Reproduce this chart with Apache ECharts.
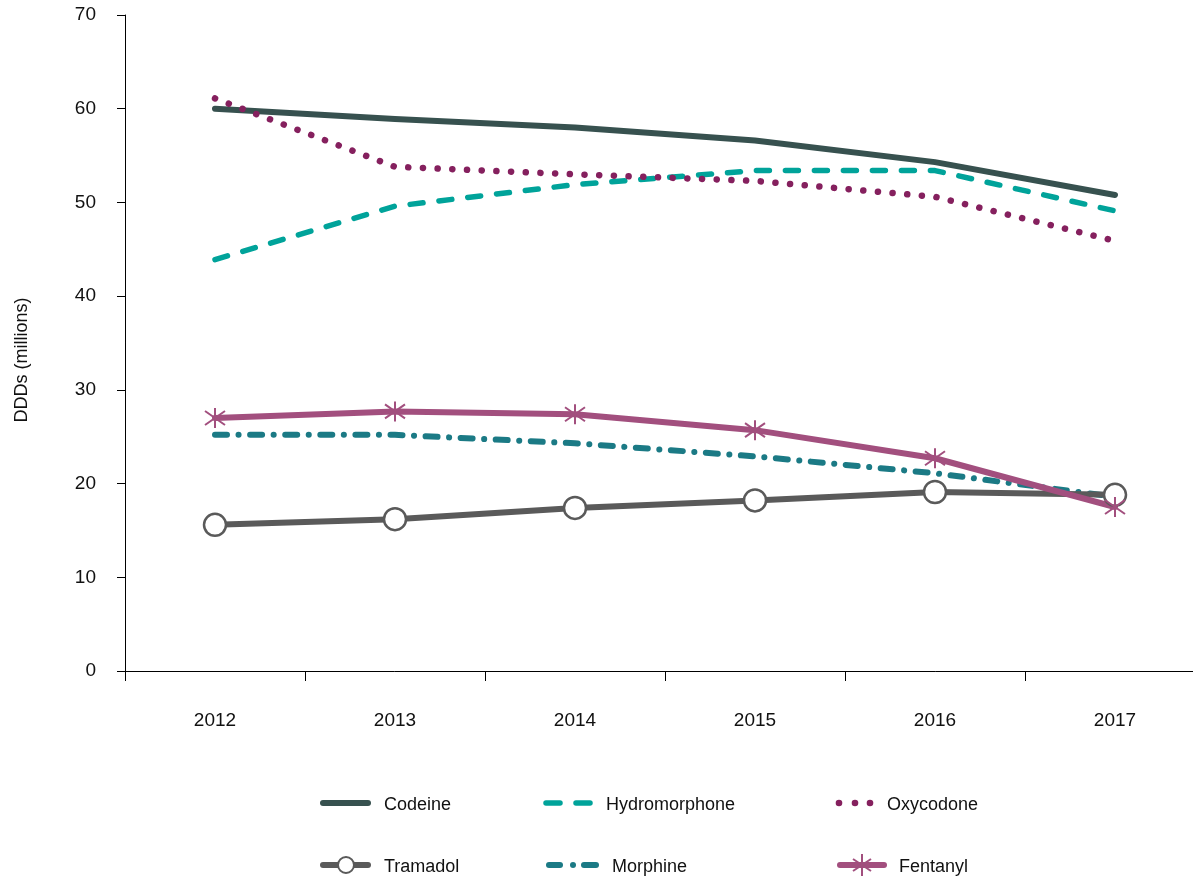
<!DOCTYPE html>
<html><head><meta charset="utf-8">
<script src="https://cdn.jsdelivr.net/npm/echarts@6/dist/echarts.min.js"></script>
<style>html,body{margin:0;padding:0;background:#fff;overflow:hidden}#c{width:1205px;height:879px}</style>
</head><body><div id="c"></div>
<script>
const years = ['2012','2013','2014','2015','2016','2017'];
const codeine = [60.0, 58.9, 58.0, 56.6, 54.3, 50.8];
const hydromorphone = [43.9, 49.6, 51.9, 53.4, 53.4, 49.1];
const oxycodone = [61.1, 53.8, 53.0, 52.3, 50.6, 45.9];
const tramadol = [15.6, 16.2, 17.4, 18.2, 19.1, 18.8];
const morphine = [25.2, 25.2, 24.3, 22.9, 21.1, 18.6];
const fentanyl = [27.0, 27.7, 27.4, 25.7, 22.7, 17.5];
const yTicks = [0, 10, 20, 30, 40, 50, 60, 70];

const FONT = '"Liberation Sans Narrow","Arial Narrow","Liberation Sans",Arial,sans-serif';
const star = 'path://M10,0L10,20M0,3L20,17M0,17L20,3';
const C = {Codeine:'#37514f', Hydromorphone:'#00a39a', Oxycodone:'#85205e',
           Tramadol:'#5a5a5a', Morphine:'#1b7a85', Fentanyl:'#a24f7e'};

const series = [
  {name:'Codeine', data:codeine, width:6, type:'solid'},
  {name:'Hydromorphone', data:hydromorphone, width:5.5, type:[13,16]},
  {name:'Oxycodone', data:oxycodone, width:6.5, type:[0.1,14.6]},
  {name:'Tramadol', data:tramadol, width:6, type:'solid', symbol:'circle', size:22},
  {name:'Morphine', data:morphine, width:6, type:[12,11.5,0.1,11.5]},
  {name:'Fentanyl', data:fentanyl, width:6, type:'solid', symbol:star, size:20}
].map(s => ({
  name: s.name, type:'line', data:s.data,
  symbol: s.symbol || 'none', symbolSize: s.size || 0,
  showSymbol: !!s.symbol,
  lineStyle: {color:C[s.name], width:s.width, type:s.type, cap:'round', join:'round'},
  itemStyle: s.symbol === 'circle' ? {color:'#fff', borderColor:C[s.name], borderWidth:2.5}
            : s.symbol ? {color:C[s.name], borderColor:C[s.name], borderWidth:2} : {color:C[s.name]},
  z: s.symbol ? 3 : 2,
  animation:false
}));

// legend text positions (x of text start, y of text centre)
const legendPos = [
  ['Codeine', 383, 803], ['Hydromorphone', 605, 803], ['Oxycodone', 886, 803],
  ['Tramadol', 383, 865], ['Morphine', 611, 865], ['Fentanyl', 898, 865]
];
const legends = legendPos.map(([n,x,y]) => ({
  data:[n], left:x - 57, top:y - 7, itemWidth:52, itemHeight:14, itemGap:0, padding:0,
  itemStyle:{opacity:0}, lineStyle:{opacity:0}, selectedMode:false,
  textStyle:{fontFamily:FONT, fontSize:18, color:'#111'}
}));

// legend icons drawn as graphics
const seg = (x1,y1,x2,y2,color,w,cap) => ({type:'line', shape:{x1,y1,x2,y2},
  style:{stroke:color, lineWidth:w, lineCap:cap || 'round'}, silent:true});
const ln = (x1,x2,y,color,w) => seg(x1,y,x2,y,color,w);
const dot = (x,y,r,color) => ({type:'circle', shape:{cx:x,cy:y,r}, style:{fill:color}, silent:true});
const icons = [
  ln(323,368,803,C.Codeine,6),
  ln(546,560,803,C.Hydromorphone,5.5), ln(576,590,803,C.Hydromorphone,5.5),
  dot(839,803,3.3,C.Oxycodone), dot(855,803,3.3,C.Oxycodone), dot(870,803,3.3,C.Oxycodone),
  ln(323,368,865,C.Tramadol,6),
  {type:'circle', shape:{cx:346,cy:865,r:8}, style:{fill:'#fff', stroke:C.Tramadol, lineWidth:2}, silent:true},
  ln(549,560,865,C.Morphine,6), dot(573,865,3,C.Morphine), ln(584,596,865,C.Morphine,6),
  ln(840,884,865,C.Fentanyl,6),
  seg(862,854,862,876,C.Fentanyl,2,'butt'),
  seg(853,859,871,871,C.Fentanyl,2,'butt'),
  seg(853,871,871,859,C.Fentanyl,2,'butt'),
  {type:'text', x:22, y:360, rotation:Math.PI/2,
   style:{text:'DDDs (millions)', font:'18px ' + FONT, fill:'#111', align:'center', verticalAlign:'middle'}}
];

const chart = echarts.init(document.getElementById('c'));
chart.setOption({
  backgroundColor:'#fff',
  animation:false,
  grid:{left:125, top:15, bottom:208, right:0, containLabel:false},
  legend: legends,
  graphic: icons,
  xAxis:{type:'category', data:years, boundaryGap:true,
    axisLine:{lineStyle:{color:'#000', width:1}},
    axisTick:{show:true, length:10, lineStyle:{color:'#000'}},
    axisLabel:{margin:40, fontFamily:FONT, fontSize:19, color:'#111'}},
  yAxis:{type:'value', min:0, max:70, interval:10,
    splitLine:{show:false},
    axisLine:{show:true, lineStyle:{color:'#000', width:1}},
    axisTick:{show:true, length:8, lineStyle:{color:'#000'}},
    axisLabel:{margin:29, fontFamily:FONT, fontSize:19, color:'#111',
      formatter: v => yTicks.includes(v) ? String(v) : ''}},
  series: series
});
</script></body></html>
